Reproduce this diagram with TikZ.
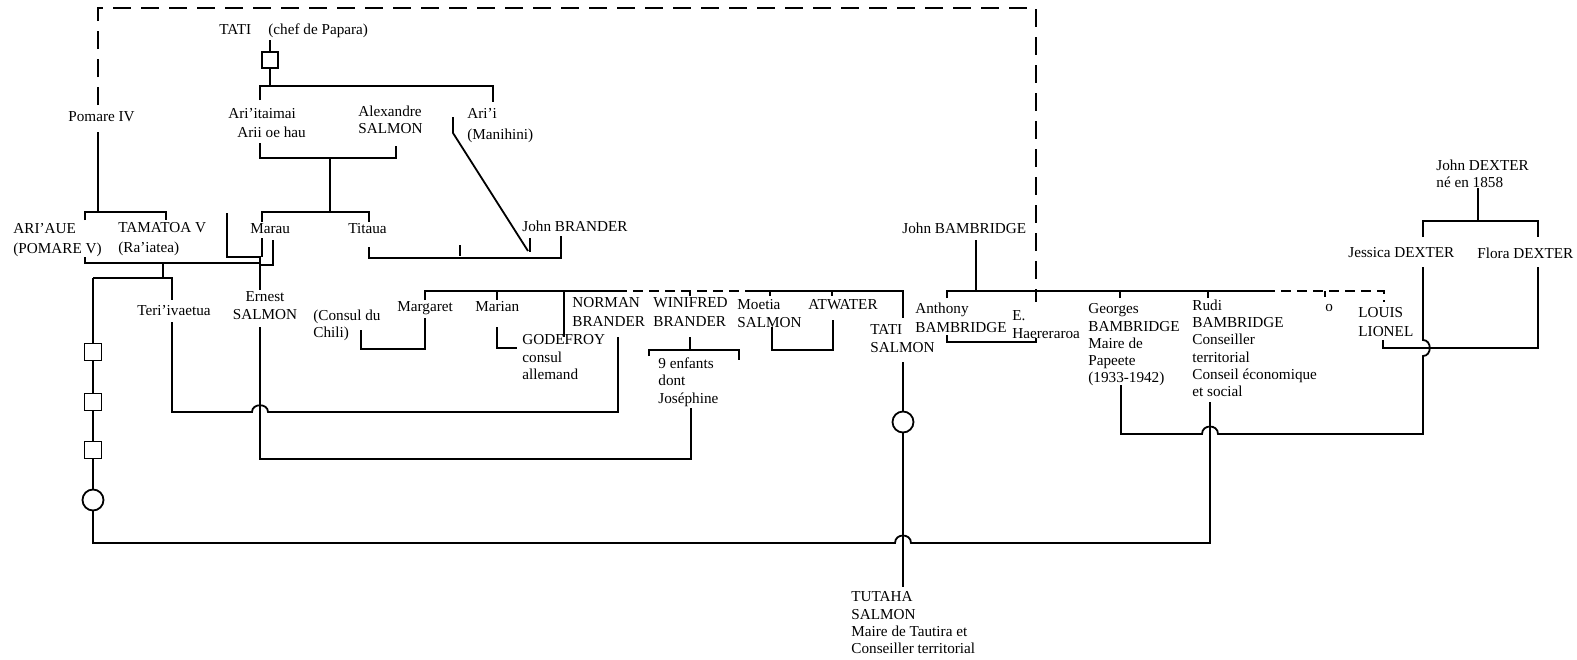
\documentclass[tikz,border=0pt]{standalone}
\usepackage{fontspec}
\setmainfont{Liberation Serif}
\newcommand\dgfont{\fontsize{7.6}{8.6}\selectfont}
\begin{document}
\begin{tikzpicture}[x=0.5pt,y=-0.5pt,
  lbl/.style={inner sep=0pt, anchor=north west, yshift=2.75pt, align=left, font=\dgfont},
  lblc/.style={inner sep=0pt, anchor=north, yshift=2.75pt, align=center, font=\dgfont},
  ln/.style={line width=0.9pt, line join=miter},
  dsh/.style={line width=0.9pt, dash pattern=on 9pt off 5pt},
  dshs/.style={line width=0.9pt, dash pattern=on 5pt off 3pt},
  sq/.style={draw, line width=0.9pt, fill=white, minimum size=8.5pt, inner sep=0pt},
  cir/.style={draw, circle, line width=0.9pt, fill=white, minimum size=10.5pt, inner sep=0pt}]
\path[use as bounding box] (0,0) rectangle (1577,659);

% ---------- labels ----------
\node[lbl] (tati) at (219,30) {TATI};
\node[lbl] (chef) at (268,29) {(chef de Papara)};
\node[lbl] (pom4) at (68,117) {Pomare IV};
\node[lbl] (arit) at (228,113) {Ari'itaimai};
\node[lbl] (ariioe) at (237,132) {Arii oe hau};
\node[lbl] (alex) at (358,111) {Alexandre\\SALMON};
\node[lbl] (arii) at (467,113) {Ari'i\\[1.9pt](Manihini)};
\node[lbl] (ariaue) at (13,228) {ARI'AUE\\[1.4pt](POMARE V)};
\node[lbl] (tama) at (118,228) {TAMATOA V\\[1.4pt](Ra'iatea)};
\node[lbl] (marau) at (250,229) {Marau};
\node[lbl] (titaua) at (348,229) {Titaua};
\node[lbl] (jbrander) at (522,226) {John BRANDER};
\node[lbl] (teri) at (137,310) {Teri'ivaetua};
\node[lblc] (ernest) at (265,297) {Ernest\\SALMON};
\node[lbl] (consul) at (313,315) {(Consul du\\Chili)};
\node[lbl] (marg) at (397,307) {Margaret};
\node[lbl] (marian) at (475,307) {Marian};
\node[lbl] (gode) at (522,340) {GODEFROY\\consul\\allemand};
\node[lbl] (norman) at (572,303) {NORMAN\\[0.9pt]BRANDER};
\node[lbl] (wini) at (653,303) {WINIFRED\\[0.9pt]BRANDER};
\node[lbl] (enf) at (658,363) {9 enfants\\dont\\Joséphine};
\node[lbl] (moetia) at (737,305) {Moetia\\SALMON};
\node[lbl] (atw) at (808,305) {ATWATER};
\node[lbl] (tatis) at (870,330) {TATI\\SALMON};
\node[lbl] (tutaha) at (851,597) {TUTAHA\\SALMON\\Maire de Tautira et\\Conseiller territorial};
\node[lbl] (jbamb) at (902,228) {John BAMBRIDGE};
\node[lbl] (anth) at (915,308) {Anthony\\[0.9pt]BAMBRIDGE};
\node[lbl] (haer) at (1012,316) {E.\\Haereraroa};
\node[lbl] (georges) at (1088,309) {Georges\\BAMBRIDGE\\Maire de\\Papeete\\(1933-1942)};
\node[lbl] (rudi) at (1192,305) {Rudi\\BAMBRIDGE\\Conseiller\\territorial\\Conseil économique\\et social};
\node[inner sep=0pt, anchor=base west, font=\dgfont] (o) at (1325,311) {o};
\node[lbl] (louis) at (1358,313) {LOUIS\\[0.9pt]LIONEL};
\node[lbl] (jdex) at (1436,165) {John DEXTER\\né en 1858};
\node[lbl] (jess) at (1348,253) {Jessica DEXTER};
\node[lbl] (flora) at (1477,253) {Flora DEXTER};

% ---------- dashed frame ----------
\draw[dsh] (98,105) -- (98,8) -- (1036,8) -- (1036,302);

% ---------- Pomare ----------
\draw[ln] (98,132) -- (98,212);
\draw[ln] (85,220) -- (85,212) -- (166,212) -- (166,220);
\draw[ln] (85,257) -- (85,263) -- (260,263);
\draw[ln] (163,263) -- (163,278);
\draw[ln] (93,278) -- (172,278) -- (172,300);
\draw[ln] (93,278) -- (93,543) -- (895,543) .. controls (895,533) and (911,533) .. (911,543) -- (1210,543) -- (1210,402);

% ---------- Tati / Salmon ----------
\draw[ln] (270,40) -- (270,86);
\draw[ln] (260,100) -- (260,86) -- (493,86) -- (493,102);
\draw[ln] (260,143) -- (260,158) -- (396,158) -- (396,146);
\draw[ln] (330,158) -- (330,212);
\draw[ln] (262,222) -- (262,212) -- (369,212) -- (369,222);
\draw[ln] (227,213) -- (227,257) -- (260,257) -- (260,290);
\draw[ln] (262,238) -- (262,257);
\draw[ln] (273,240) -- (273,265) -- (260,265);

% ---------- Titaua / John Brander ----------
\draw[ln] (369,247) -- (369,258) -- (561,258) -- (561,236);
\draw[ln] (460,245) -- (460,256);
\draw[ln] (453,117) -- (453,133) -- (528,251);
\draw[ln] (530,238) -- (530,252);

% ---------- Brander children ----------
\draw[ln] (425,300) -- (425,291) -- (617,291);
\draw[dshs] (617,291) -- (750,291);
\draw[ln] (750,291) -- (903,291) -- (903,318);
\draw[ln] (497,291) -- (497,300);
\draw[ln] (564,291) -- (564,337);
\draw[ln] (690,291) -- (690,296);
\draw[ln] (770,291) -- (770,296);
\draw[ln] (832,291) -- (832,296);
\draw[ln] (361,330) -- (361,349) -- (425,349) -- (425,318);
\draw[ln] (497,327) -- (497,348) -- (517,348);
\draw[ln] (690,337) -- (690,350);
\draw[ln] (649,356) -- (649,350) -- (739,350) -- (739,360);
\draw[ln] (772,327) -- (772,350) -- (833,350) -- (833,320);

% ---------- marriages Teri'ivaetua / Ernest ----------
\draw[ln] (172,322) -- (172,412) -- (252,412) .. controls (252,403) and (268,403) .. (268,412) -- (618,412) -- (618,337);
\draw[ln] (260,327) -- (260,459) -- (691,459) -- (691,408);

% ---------- Tati Salmon ----------
\draw[ln] (903,362) -- (903,587);

% ---------- Bambridge ----------
\draw[ln] (976,240) -- (976,291);
\draw[ln] (947,298) -- (947,291) -- (1265,291);
\draw[dshs] (1265,291) -- (1384,291) -- (1384,302);
\draw[ln] (1120,291) -- (1120,298);
\draw[ln] (1208,291) -- (1208,298);
\draw[ln] (1325,291) -- (1325,297);
\draw[ln] (947,335) -- (947,342) -- (1036,342) -- (1036,338);
\draw[ln] (1121,385) -- (1121,434) -- (1202,434) .. controls (1202,424) and (1218,424) .. (1218,434) -- (1423,434) -- (1423,356) .. controls (1432,356) and (1432,340) .. (1423,340) -- (1423,267);
\draw[ln] (1383,340) -- (1383,348) -- (1538,348) -- (1538,267);

% ---------- Dexter ----------
\draw[ln] (1478,188) -- (1478,221);
\draw[ln] (1423,237) -- (1423,221) -- (1538,221) -- (1538,237);

% ---------- symbols ----------
\node[sq, minimum size=8pt] (tsq) at (270,60) {};
\node[sq] (s1) at (93,352) {};
\node[sq] (s2) at (93,402) {};
\node[sq] (s3) at (93,450) {};
\node[cir] (c1) at (93,500) {};
\node[cir] (c2) at (903,422) {};
\end{tikzpicture}
\end{document}
